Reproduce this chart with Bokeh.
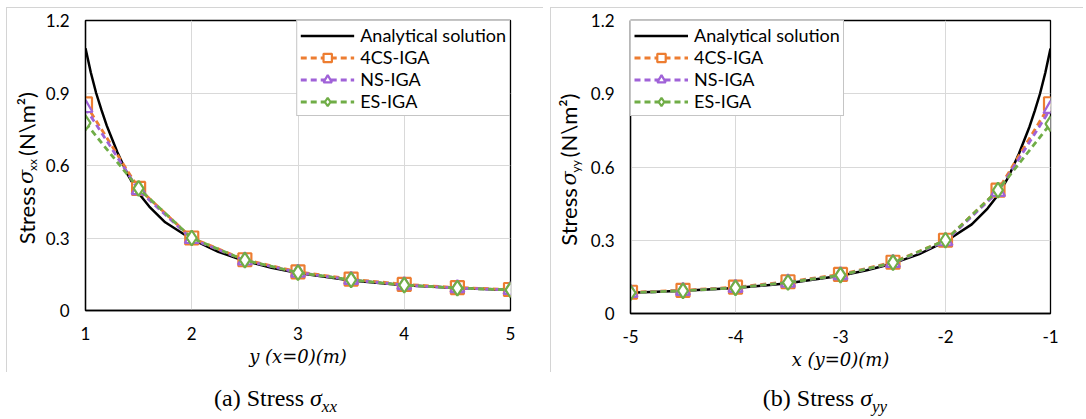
import math
from bokeh.plotting import figure
from bokeh.models import (Legend, LegendItem, FixedTicker, CustomJSTickFormatter, Div, Spacer)
from bokeh.core.properties import value
from bokeh.layouts import column, row
from bokeh.embed import file_html
from bokeh.resources import INLINE

# ---------------- data ----------------
x_nodes_a = [1.0, 1.5, 2.0, 2.5, 3.0, 3.5, 4.0, 4.5, 5.0]
sxx_4cs = [0.855, 0.505, 0.300, 0.210, 0.160, 0.130, 0.108, 0.095, 0.087]
sxx_ns = [0.838, 0.498, 0.296, 0.207, 0.157, 0.127, 0.105, 0.093, 0.085]
sxx_es = [0.776, 0.505, 0.300, 0.208, 0.157, 0.127, 0.105, 0.093, 0.085]
x_an_a = [1.0, 1.05, 1.1, 1.15, 1.2, 1.3, 1.4, 1.5, 1.6, 1.75, 2.0, 2.25, 2.5, 2.75, 3.0, 3.5, 4.0, 4.5, 5.0]
sxx_an = [1.085, 0.985, 0.900, 0.830, 0.765, 0.655, 0.560, 0.485, 0.430, 0.365, 0.295, 0.243, 0.205, 0.177, 0.155, 0.124, 0.104, 0.093, 0.085]

x_nodes_b = [-5.0, -4.5, -4.0, -3.5, -3.0, -2.5, -2.0, -1.5, -1.0]
syy_4cs = [0.087, 0.095, 0.108, 0.130, 0.160, 0.210, 0.300, 0.505, 0.859]
syy_ns = [0.085, 0.093, 0.105, 0.127, 0.157, 0.207, 0.296, 0.498, 0.838]
syy_es = [0.085, 0.093, 0.105, 0.127, 0.157, 0.208, 0.300, 0.505, 0.777]
x_an_b = [-5.0, -4.5, -4.0, -3.5, -3.0, -2.75, -2.5, -2.25, -2.0, -1.75, -1.6, -1.5, -1.4, -1.3, -1.2, -1.15, -1.1, -1.05, -1.0]
syy_an = [0.085, 0.093, 0.104, 0.124, 0.155, 0.177, 0.205, 0.243, 0.295, 0.365, 0.430, 0.485, 0.560, 0.655, 0.765, 0.830, 0.900, 0.985, 1.085]

y_ticks = [0, 0.3, 0.6, 0.9, 1.2]
x_ticks_a = [1, 2, 3, 4, 5]
x_ticks_b = [-5, -4, -3, -2, -1]

series_names = ["Analytical solution", "4CS-IGA", "NS-IGA", "ES-IGA"]
ORANGE = "#ED7D31"
PURPLE = "#A062D8"
GREEN = "#70AD47"
PANEL_BORDER = "1px solid #d4d4d4"

FONT = "Lato"
fmt = CustomJSTickFormatter(code="return tick.toFixed(1).replace('.0','');")


def make_label_fig(sub, lab_w, cx, frame_h, bt, bb):
    """A narrow figure holding the composed, rotated y-axis title."""
    q = figure(frame_width=lab_w, frame_height=frame_h, x_range=(0, lab_w), y_range=(0, 1.2),
               output_backend="svg", toolbar_location=None, title=None,
               min_border_left=0, min_border_right=0, min_border_top=bt, min_border_bottom=bb)
    q.axis.visible = False
    q.grid.visible = False
    q.outline_line_color = None
    q.styles = {"border-left": PANEL_BORDER, "border-top": PANEL_BORDER}
    uy = 1.2 / frame_h
    L = 157
    yy = frame_h / 2 - L / 2
    pieces = [("Stress ", FONT, "22px", "normal", 0, 60),
              ("\u03c3", "DejaVu Serif", "21px", "italic", 0, 13),
              (sub, FONT, "12px", "normal", 6, 15),
              (" (N\\m\u00b2)", FONT, "22px", "normal", 0, 69)]
    for txt, fnt, fs, st, shift, w in pieces:
        q.text(x=[cx + shift], y=[yy * uy], text=[txt], angle=math.pi / 2,
               text_align="left", text_baseline="middle", text_font=value(fnt),
               text_font_size=value(fs), text_font_style=st, text_color="black")
        yy += w
    return q


def make_panel(xs_n, s4, sn, se, xs_an, s_an, xticks, xrange, xlabel,
               frame_w, frame_h, bl, br, bt, bb, legend_loc):
    p = figure(frame_width=frame_w, frame_height=frame_h,
               x_range=xrange, y_range=(0, 1.2), output_backend="svg",
               toolbar_location=None, min_border_left=bl, min_border_right=br,
               min_border_top=bt, min_border_bottom=bb)
    p.background_fill_color = "white"
    p.border_fill_color = "white"
    p.outline_line_color = "black"
    p.outline_line_width = 1.3
    p.styles = {"border-top": PANEL_BORDER}

    for ax in (p.xaxis[0], p.yaxis[0]):
        ax.axis_line_color = "black"
        ax.axis_line_width = 1.3
        ax.major_tick_line_color = None
        ax.minor_tick_line_color = None
        ax.major_tick_out = 0
        ax.major_tick_in = 0
        ax.minor_tick_out = 0
        ax.major_label_text_font = FONT
        ax.major_label_text_font_size = "17px"
        ax.major_label_text_color = "black"
        ax.formatter = fmt
    p.xaxis.ticker = FixedTicker(ticks=xticks)
    p.yaxis.ticker = FixedTicker(ticks=y_ticks)
    p.xaxis.major_label_standoff = 16
    p.yaxis.major_label_standoff = 16
    p.xaxis.axis_label = xlabel
    p.xaxis.axis_label_text_font = "DejaVu Serif"
    p.xaxis.axis_label_text_font_style = "italic"
    p.xaxis.axis_label_text_font_size = "18px"
    p.xaxis.axis_label_text_color = "black"
    p.xaxis.axis_label_standoff = 3

    p.xgrid.grid_line_color = "#d9d9d9"
    p.ygrid.grid_line_color = "#d9d9d9"
    p.xgrid.grid_line_width = 1
    p.ygrid.grid_line_width = 1

    r_an = p.line(xs_an, s_an, line_color="black", line_width=2.5)
    l4 = p.line(xs_n, s4, line_color=ORANGE, line_width=2.8, line_dash="6 4")
    m4 = p.scatter(xs_n, s4, marker="square", size=13, line_color=ORANGE, line_width=2.2, fill_color="white")
    ln = p.line(xs_n, sn, line_color=PURPLE, line_width=2.8, line_dash="6 4")
    mn = p.scatter(xs_n, sn, marker="triangle", size=14, line_color=PURPLE, line_width=2.2, fill_color="white")
    le = p.line(xs_n, se, line_color=GREEN, line_width=2.8, line_dash="6 4")
    me = p.scatter(xs_n, se, marker="diamond", size=15, line_color=GREEN, line_width=2.2, fill_color="white")

    legend = Legend(items=[
        LegendItem(label=series_names[0], renderers=[r_an]),
        LegendItem(label=series_names[1], renderers=[l4, m4]),
        LegendItem(label=series_names[2], renderers=[ln, mn]),
        LegendItem(label=series_names[3], renderers=[le, me]),
    ], location=legend_loc)
    legend.margin = 0
    legend.padding = 3
    legend.spacing = 0
    legend.label_height = 21
    legend.glyph_height = 21
    legend.glyph_width = 54
    legend.label_standoff = 6
    legend.label_text_font = FONT
    legend.label_text_font_size = "18px"
    legend.label_text_color = "black"
    legend.border_line_color = "#8c8c8c"
    legend.border_line_width = 1
    legend.background_fill_color = "white"
    legend.background_fill_alpha = 1
    p.add_layout(legend)
    return p


# left panel
la = make_label_fig("xx", 34, 18, 289, 12, 63)
pa = make_panel(x_nodes_a, sxx_4cs, sxx_ns, sxx_es, x_an_a, sxx_an, x_ticks_a, (1, 5),
                "y (x=0)(m)", 425, 289, 44, 33, 12, 63, "top_right")
# right panel
lb = make_label_fig("yy", 35, 17, 292, 12, 60)
pb = make_panel(x_nodes_b, syy_4cs, syy_ns, syy_es, x_an_b, syy_an, x_ticks_b, (-5, -1),
                "x (y=0)(m)", 420, 292, 44, 33, 12, 60, "top_left")

cap_style = ("position:relative; top:14px; text-align:center; font-family:'Liberation Serif';"
             " font-size:24px; line-height:24px; color:black; white-space:nowrap;")
cap_a = Div(text=f"<div style=\"{cap_style} width:539px;\">(a) Stress <i>&sigma;</i><sub style='font-size:17px'><i>xx</i></sub></div>",
            width=539, height=44, margin=0)
cap_b = Div(text=f"<div style=\"{cap_style} width:546px;\">(b) Stress <i>&sigma;</i><sub style='font-size:17px'><i>yy</i></sub></div>",
            width=520, height=44, margin=0)

cap_row = row(Spacer(width=6), cap_a, Spacer(width=7), cap_b, spacing=0)
layout = column(Spacer(height=7), row(Spacer(width=6), la, pa, Spacer(width=7), lb, pb, spacing=0),
                cap_row, spacing=0)

open("out.html", "w").write(file_html(layout, INLINE))
